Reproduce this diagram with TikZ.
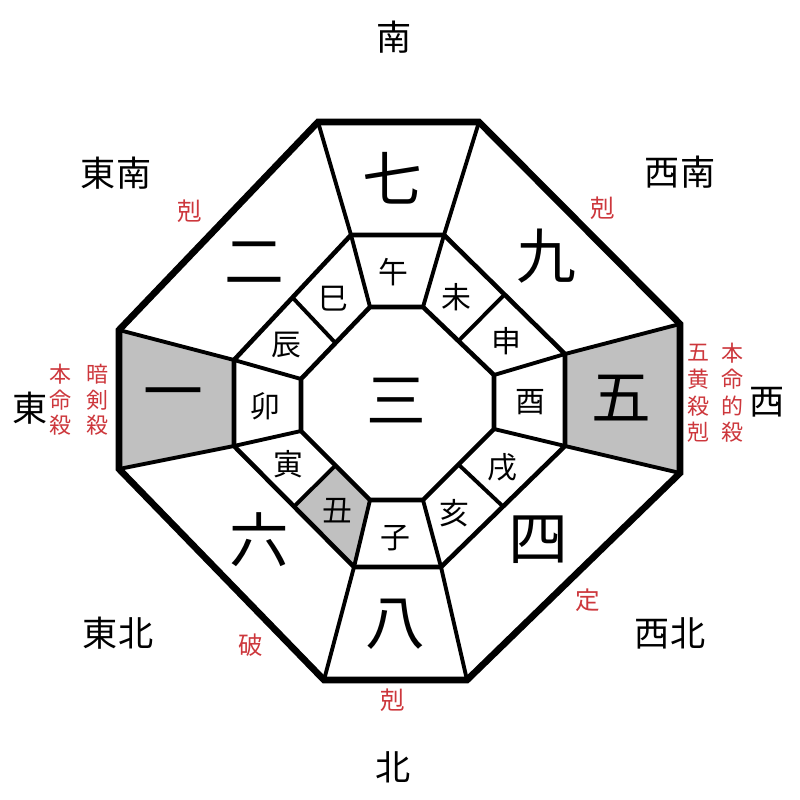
\documentclass[tikz,border=0pt]{standalone}
\usepackage{fontspec}
\setmainfont{Noto Sans CJK JP}
\usetikzlibrary{calc}
\definecolor{kred}{RGB}{205,55,60}
\definecolor{kgray}{RGB}{192,192,192}

\begin{document}
\begin{tikzpicture}[x=0.02cm,y=-0.02cm,
  outer/.style={line width=3.8pt,line join=miter},
  ring/.style={line width=2.6pt,line join=miter},
  spoke/.style={line width=2.2pt},
  big/.style={font=\fontsize{34}{34}\selectfont},
  zodiac/.style={font=\fontsize{17}{17}\selectfont},
  dir/.style={font=\fontsize{20}{20}\selectfont},
  redmark/.style={text=kred,font=\fontsize{14}{14}\selectfont},
  redcol/.style={text=kred,font=\fontsize{12.5}{12.5}\selectfont}]
\fill[white] (0,0) rectangle (800,800);
\useasboundingbox (0,0) rectangle (800,800);
\coordinate (O1) at (318,122); \coordinate (O2) at (479,122);
\coordinate (O3) at (680,324); \coordinate (O4) at (680,473);
\coordinate (O5) at (467,680); \coordinate (O6) at (324,680);
\coordinate (O7) at (119,469); \coordinate (O8) at (119,330);
\coordinate (M1) at (351,235); \coordinate (M2) at (444,235);
\coordinate (M3) at (565,354); \coordinate (M4) at (565,446);
\coordinate (M5) at (441,567); \coordinate (M6) at (354,567);
\coordinate (M7) at (234,446); \coordinate (M8) at (234,360);
\coordinate (I1) at (370,307); \coordinate (I2) at (423,307);
\coordinate (I3) at (494,375); \coordinate (I4) at (494,429);
\coordinate (I5) at (423,500); \coordinate (I6) at (370,500);
\coordinate (I7) at (301,431); \coordinate (I8) at (301,379);
\coordinate (MA) at ($(M2)!0.5!(M3)$); \coordinate (IA) at ($(I2)!0.5!(I3)$);
\coordinate (MB) at ($(M4)!0.5!(M5)$); \coordinate (IB) at ($(I4)!0.5!(I5)$);
\coordinate (MC) at ($(M6)!0.5!(M7)$); \coordinate (IC) at ($(I6)!0.5!(I7)$);
\coordinate (MD) at ($(M8)!0.5!(M1)$); \coordinate (ID) at ($(I8)!0.5!(I1)$);
\fill[kgray] (O8) -- (M8) -- (M7) -- (O7) -- cycle;
\fill[kgray] (M3) -- (O3) -- (O4) -- (M4) -- cycle;
\fill[kgray] (MC) -- (M6) -- (I6) -- (IC) -- cycle;
\foreach \a/\b in {O1/M1,O2/M2,O3/M3,O4/M4,O5/M5,O6/M6,O7/M7,O8/M8,
  M1/I1,M2/I2,M3/I3,M4/I4,M5/I5,M6/I6,M7/I7,M8/I8,MA/IA,MB/IB,MC/IC,MD/ID}
  \draw[spoke] (\a) -- (\b);
\draw[ring] (M1) -- (M2) -- (M3) -- (M4) -- (M5) -- (M6) -- (M7) -- (M8) -- cycle;
\draw[ring] (I1) -- (I2) -- (I3) -- (I4) -- (I5) -- (I6) -- (I7) -- (I8) -- cycle;
\draw[outer] (O1) -- (O2) -- (O3) -- (O4) -- (O5) -- (O6) -- (O7) -- (O8) -- cycle;
\foreach \t/\x/\y/\n in {七/392/178/n7,九/546/256/n9,五/621/398/n5,四/538/540/n4,
  八/395/624/n8,六/259/540/n6,一/173/401/n1,二/254/263/n2,三/396/401/n3}
  \node[big] (\n) at (\x,\y) {\t};
\foreach \t/\x/\y/\n in {午/393/272/zA,未/456/297/zB,申/506/341/zC,酉/530/402/zD,
  戌/502/467/zE,亥/454/513/zF,子/395/538/zG,丑/337/511/zH,寅/288/464/zI,
  卯/265/406/zJ,辰/286/345/zK,巳/333/299/zL}
  \node[zodiac] (\n) at (\x,\y) {\t};
\foreach \t/\x/\y/\n in {南/394/37/dS,北/393/767/dN,東/30/408/dE,西/767/402/dW,
  東南/116/173/dSE,西南/680/172/dSW,東北/118/633/dNE,西北/670/633/dNW}
  \node[dir] (\n) at (\x,\y) {\t};
\foreach \t/\x/\y/\n in {剋/190/211/rA,剋/603/208/rB,破/251/645/rC,剋/393/700/rD,定/588/600/rE}
  \node[redmark] (\n) at (\x,\y) {\t};
\foreach \t/\x/\y/\n in {本/60/374/lA,命/60/400/lB,殺/60/425/lC,
  暗/97/374/lD,剣/97/400/lE,殺/97/425/lF,
  五/698/353/rF,黄/698/379/rG,殺/698/406/rH,剋/698/432/rI,
  本/732/353/rJ,命/732/379/rK,的/732/406/rL,殺/732/432/rM}
  \node[redcol] (\n) at (\x,\y) {\t};
\end{tikzpicture}
\end{document}
